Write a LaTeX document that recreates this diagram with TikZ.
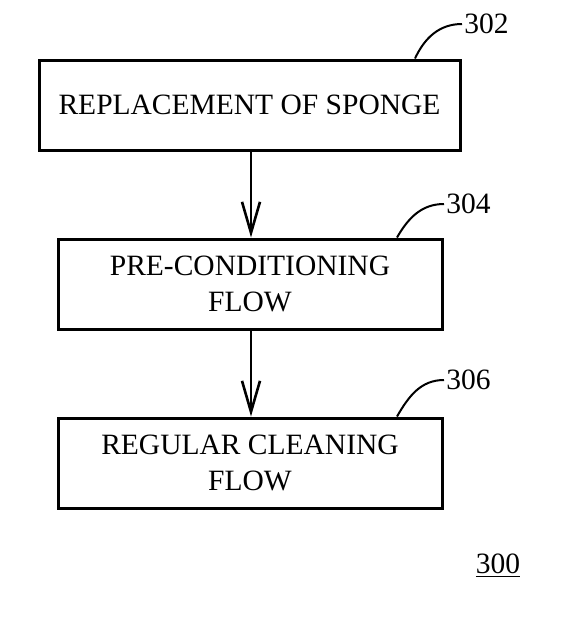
\documentclass[tikz,border=0pt]{standalone}
\usepackage{fontspec}
\setmainfont{Liberation Serif}
\usetikzlibrary{arrows.meta,positioning}

\begin{document}
\begin{tikzpicture}[x=0.5pt, y=-0.5pt,
  font=\fontsize{14.75}{18}\selectfont,
  stepbox/.style={draw=black, line width=1.5pt, align=center,
    minimum width=#1, minimum height=45pt, inner sep=0pt},
  arr/.style={line width=1.3pt, -{Straight Barb[length=15.5pt, width=9pt, line width=1.3pt]}},
  lead/.style={line width=1pt},
  ref/.style={anchor=west, inner sep=1pt},
]
\useasboundingbox (0,0) rectangle (582,622);

%% Steps
\node[stepbox=210.5pt] (sponge) at (249.5,105) {REPLACEMENT OF SPONGE};
\node[stepbox=192pt, below=43pt of sponge.south, anchor=north, xshift=0.25pt] (precond) {PRE-CONDITIONING\\FLOW};
\node[stepbox=192pt, below=43pt of precond.south, anchor=north] (regular) {REGULAR CLEANING\\FLOW};

%% Arrows
\draw[arr] (sponge.south -| 251,0) -- (precond.north -| 251,0);
\draw[arr] (precond.south -| 251,0) -- (regular.north -| 251,0);

%% Reference numerals
\node[ref] (n302) at (462,24) {302};
\node[ref] (n304) at (444,204) {304};
\node[ref] (n306) at (444,380) {306};
\draw[lead] (sponge.north -| 415,0) to[out=65, in=180] (n302.west);
\draw[lead] (precond.north -| 397,0) to[out=60, in=180] (n304.west);
\draw[lead] (regular.north -| 397,0) to[out=60, in=180] (n306.west);

\node (n300) at (498,566) {\underline{300}};

\end{tikzpicture}
\end{document}
